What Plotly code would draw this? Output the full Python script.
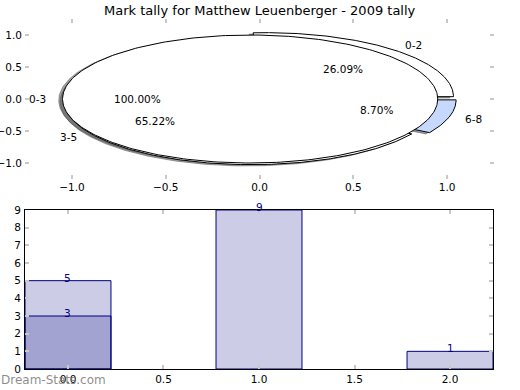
import numpy as np
import plotly.graph_objects as go

title = "Mark tally for Matthew Leuenberger - 2009 tally"

# inner pie (drawn first)
inner_labels = ["0-2", "3-5", "6-8"]
inner_pcts = [26.09, 65.22, 8.70]
inner_colors = [(255, 255, 255), (255, 255, 255), (198, 217, 253)]
inner_explode = [0.05, 0.05, 0.05]

# outer single-slice pie (drawn on top)
outer_labels = ["0-3"]
outer_pcts = [100.0]
outer_colors = [(255, 255, 255)]
outer_explode = [0.05]

# bar chart
bar_x = [0, 1, 2]
bar_totals = [5, 9, 1]
bar_sub_x = [0]
bar_sub = [3]

pie_ticks = [-1.0, -0.5, 0.0, 0.5, 1.0]
bar_xticks = [0.0, 0.5, 1.0, 1.5, 2.0]
bar_yticks = list(range(10))

FONT = "DejaVu Sans"
W, H = 520, 390


def make_wedges(pcts, explode, colors, labels):
    total = float(sum(pcts))
    res = []
    t = 0.0
    for p, e, c, lab in zip(pcts, explode, colors, labels):
        t1, t2 = t, t + 360.0 * p / total
        mid = np.deg2rad((t1 + t2) / 2)
        cx, cy = e * np.cos(mid), e * np.sin(mid)
        th = np.deg2rad(np.linspace(t1, t2, 300))
        xs = cx + np.cos(th)
        ys = cy + np.sin(th)
        if t2 - t1 < 359.999:
            xs = np.concatenate([[cx], xs, [cx]])
            ys = np.concatenate([[cy], ys, [cy]])
        res.append(dict(xs=xs, ys=ys, color=c, label=lab, pct=p, mid=mid, cx=cx, cy=cy))
        t = t2
    return res


inner = make_wedges(inner_pcts, inner_explode, inner_colors, inner_labels)
outer = make_wedges(outer_pcts, outer_explode, outer_colors, outer_labels)

fig = go.Figure()

# shadows first (lower zorder)
for w in inner + outer:
    r, g, b = [int(round(0.3 * v)) for v in w["color"]]
    col = f"rgba({r},{g},{b},0.5)"
    fig.add_trace(go.Scatter(x=w["xs"] - 0.02, y=w["ys"] - 0.02, mode="lines", fill="toself",
                             fillcolor=col, line=dict(color=col, width=1),
                             hoverinfo="skip", xaxis="x", yaxis="y"))
# wedges
for w in inner + outer:
    r, g, b = w["color"]
    fig.add_trace(go.Scatter(x=w["xs"], y=w["ys"], mode="lines", fill="toself",
                             fillcolor=f"rgb({r},{g},{b})", line=dict(color="black", width=1),
                             hoverinfo="skip", xaxis="x", yaxis="y"))

annotations = []
for w in inner + outer:
    lx = w["cx"] + 1.1 * np.cos(w["mid"])
    ly = w["cy"] + 1.1 * np.sin(w["mid"])
    right = lx > 0
    annotations.append(dict(x=lx, y=ly, xref="x", yref="y", text=w["label"], showarrow=False,
                            xanchor="left" if right else "right", yanchor="middle",
                            xshift=-4 if right else 4,
                            font=dict(family=FONT, size=10.5, color="black")))
    px = w["cx"] + 0.6 * np.cos(w["mid"])
    py = w["cy"] + 0.6 * np.sin(w["mid"])
    annotations.append(dict(x=px, y=py, xref="x", yref="y", text=f"{w['pct']:.2f}%", showarrow=False,
                            xanchor="center", yanchor="middle",
                            font=dict(family=FONT, size=10.5, color="black")))

# bars
fig.add_trace(go.Bar(x=bar_x, y=bar_totals, width=0.45, marker=dict(color="rgba(0,0,128,0.2)",
                     line=dict(color="#000080", width=1)), xaxis="x2", yaxis="y2", hoverinfo="skip"))
fig.add_trace(go.Bar(x=bar_sub_x, y=bar_sub, width=0.45, marker=dict(color="rgba(0,0,128,0.2)",
                     line=dict(color="#000080", width=1)), xaxis="x2", yaxis="y2", hoverinfo="skip"))
for xv, yv in list(zip(bar_x, bar_totals)) + list(zip(bar_sub_x, bar_sub)):
    annotations.append(dict(x=xv, y=yv, xref="x2", yref="y2", text=str(yv), showarrow=False,
                            xanchor="center", yanchor="middle", yshift=3,
                            font=dict(family=FONT, size=10.5, color="#000080")))

annotations.append(dict(x=0.5, y=1 - 10 / H, xref="paper", yref="paper", text=title, showarrow=False,
                        xanchor="center", yanchor="middle", font=dict(family=FONT, size=13, color="black")))
annotations.append(dict(x=-1 / W, y=(H - 380) / H, xref="paper", yref="paper", text="Dream-Stats.com",
                        showarrow=False, xanchor="left", yanchor="middle",
                        font=dict(family=FONT, size=12, color="rgba(120,120,120,0.85)")))

tick_common = dict(ticks="inside", ticklen=4, tickwidth=1.5, tickcolor="#c8c8c8", automargin=False,
                   showgrid=False, zeroline=False, tickfont=dict(family=FONT, size=10.5, color="black"))

fig.update_layout(
    width=W, height=H, margin=dict(l=0, r=0, t=0, b=0, pad=0, autoexpand=False),
    paper_bgcolor="white", plot_bgcolor="rgba(0,0,0,0)",
    showlegend=False, barmode="overlay",
    annotations=annotations,
    xaxis=dict(domain=[25 / W, 494 / W], range=[-1.25, 1.25], anchor="y", showline=False,
               mirror="ticks", tickvals=pie_ticks, tickformat=".1f", **tick_common),
    yaxis=dict(domain=[(H - 179) / H, (H - 19) / H], range=[-1.25, 1.25], anchor="x", showline=False,
               mirror="ticks", tickvals=pie_ticks, tickformat=".1f", ticklabelstandoff=2, **tick_common),
    xaxis2=dict(domain=[25 / W, 493 / W], range=[-0.225, 2.225], anchor="y2", showline=True,
                linecolor="black", linewidth=1, mirror="ticks", tickvals=bar_xticks, tickformat=".1f",
                **tick_common),
    yaxis2=dict(domain=[(H - 369) / H, (H - 210) / H], range=[0, 9], anchor="x2", showline=True,
                linecolor="black", linewidth=1, mirror="ticks", tickvals=bar_yticks, ticklabelstandoff=1,
                **tick_common),
)

fig.write_html("out.html", config={"displayModeBar": False},
               post_script="document.body.style.margin='0';document.body.style.overflow='hidden';")
